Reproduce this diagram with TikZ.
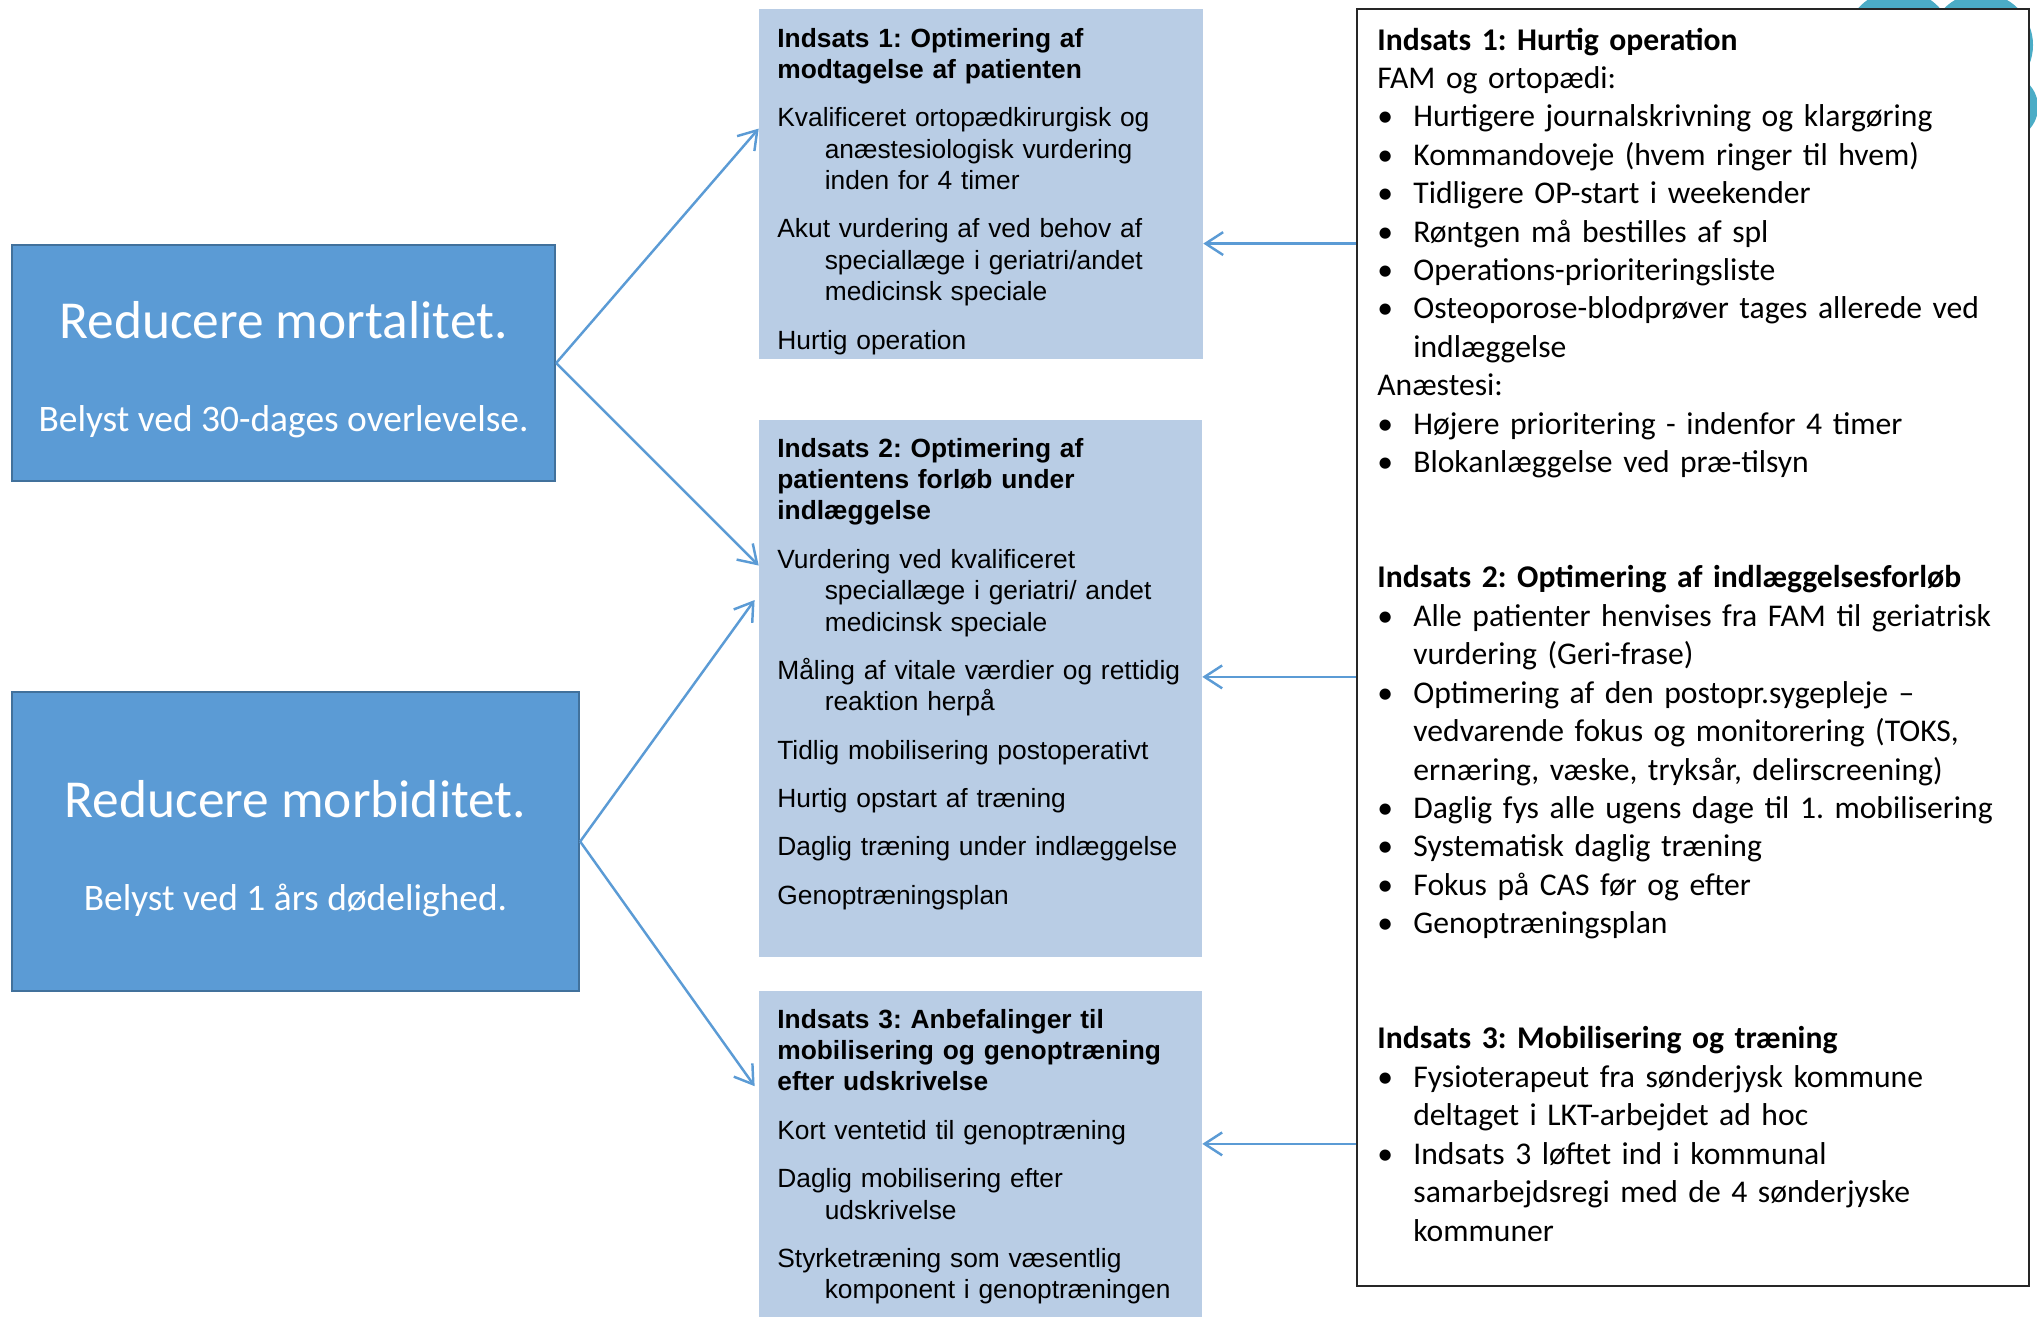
\documentclass[tikz,border=0pt]{standalone}
\usepackage{fontspec}
\setmainfont{Liberation Sans}
\newfontfamily\calibri{Carlito}
\usetikzlibrary{arrows.meta}
\frenchspacing

\definecolor{maalblaa}{HTML}{5B9BD5}
\definecolor{maalkant}{HTML}{41719C}
\definecolor{indsatsblaa}{HTML}{B9CDE5}
\definecolor{cirkel}{HTML}{4BACC6}

% punkt med haengende indrykning
\newcommand{\pkt}[1]{\par\hangindent=27pt\hangafter=1 #1\par}
\newcommand{\blt}[1]{\par\hangindent=20.5pt\hangafter=1\noindent\makebox[20.5pt][l]{\textbullet}#1\par}

\begin{document}
\begin{tikzpicture}[x=0.02cm, y=-0.02cm,
    maal/.style={rectangle, fill=maalblaa, draw=maalkant, line width=1.4pt, text=white, align=center, font=\calibri\fontsize{21.3}{26}\selectfont},
    indsats/.style={rectangle, fill=indsatsblaa, inner sep=0pt},
    indtekst/.style={anchor=base west, inner sep=0pt, text width=8.5cm, align=left,
        font=\fontsize{15}{17.9}\selectfont, execute at begin node={\setlength{\parskip}{9.6pt}}},
    pil/.style={draw=maalblaa, line width=1.4pt, -{Straight Barb[length=10pt, width=13pt]}}]

    \useasboundingbox (0,0) rectangle (2037,1316);

    % cirkler bag boksen
    \fill[cirkel] (1899,45) circle (55);
    \fill[cirkel] (1981,45) circle (52);
    \fill[cirkel] (2005,107) circle (33);

    % maal
    \node[maal, minimum width=10.86cm, minimum height=4.72cm] (mort) at (283.5,363)
        {{\fontsize{30.4}{36}\selectfont\rule{0pt}{28.3pt}Reducere mortalitet.}\\[27pt]Belyst ved 30-dages overlevelse.};
    \node[maal, minimum width=11.34cm, minimum height=5.98cm] (morb) at (295.5,841.5)
        {{\fontsize{30.4}{36}\selectfont\rule{0pt}{28.8pt}Reducere morbiditet.}\\[27pt]Belyst ved 1 års dødelighed.};

    % indsatser
    \node[indsats, minimum width=8.88cm, minimum height=7cm] (ind1) at (981,184) {};
    \node[indsats, minimum width=8.86cm, minimum height=10.74cm] (ind2) at (980.5,688.5) {};
    \node[indsats, minimum width=8.86cm, minimum height=6.58cm] (ind3) at (980.5,1155.5) {};

    \node[indtekst] (ind1txt) at (777,47) {\textbf{Indsats 1: Optimering af\newline modtagelse af patienten}
        \pkt{Kvalificeret ortopædkirurgisk og\newline anæstesiologisk vurdering\newline inden for 4 timer}
        \pkt{Akut vurdering af ved behov af\newline speciallæge i geriatri/andet\newline medicinsk speciale}
        \pkt{Hurtig operation}};
    \node[indtekst] (ind2txt) at (777,457) {\textbf{Indsats 2: Optimering af\newline patientens forløb under\newline indlæggelse}
        \pkt{Vurdering ved kvalificeret\newline speciallæge i geriatri/ andet\newline medicinsk speciale}
        \pkt{Måling af vitale værdier og rettidig\newline reaktion herpå}
        \pkt{Tidlig mobilisering postoperativt}
        \pkt{Hurtig opstart af træning}
        \pkt{Daglig træning under indlæggelse}
        \pkt{Genoptræningsplan}};
    \node[indtekst] (ind3txt) at (777,1028) {\textbf{Indsats 3: Anbefalinger til\newline mobilisering og genoptræning\newline efter udskrivelse}
        \pkt{Kort ventetid til genoptræning}
        \pkt{Daglig mobilisering efter\newline udskrivelse}
        \pkt{Styrketræning som væsentlig\newline komponent i genoptræningen}};

    % lokal kvalitetsteam
    \node[rectangle, fill=white, draw=black!85, line width=1.1pt, minimum width=13.44cm, minimum height=25.54cm] (lkt) at (1693,647.5) {};
    \node[anchor=base west, inner sep=0pt, text width=12.8cm, align=left, font=\calibri\fontsize{18}{21.87}\selectfont] (lkttxt) at (1377,50) {%
        \textbf{Indsats 1: Hurtig operation}\par
        FAM og ortopædi:
        \blt{Hurtigere journalskrivning og klargøring}
        \blt{Kommandoveje (hvem ringer til hvem)}
        \blt{Tidligere OP-start i weekender}
        \blt{Røntgen må bestilles af spl}
        \blt{Operations-prioriteringsliste}
        \blt{Osteoporose-blodprøver tages allerede ved\newline indlæggelse}
        Anæstesi:
        \blt{Højere prioritering - indenfor 4 timer}
        \blt{Blokanlæggelse ved præ-tilsyn}
        \vspace{43.7pt}
        \textbf{Indsats 2: Optimering af indlæggelsesforløb}
        \blt{Alle patienter henvises fra FAM til geriatrisk\newline vurdering (Geri-frase)}
        \blt{Optimering af den postopr.sygepleje –\newline vedvarende fokus og monitorering (TOKS,\newline ernæring, væske, tryksår, delirscreening)}
        \blt{Daglig fys alle ugens dage til 1. mobilisering}
        \blt{Systematisk daglig træning}
        \blt{Fokus på CAS før og efter}
        \blt{Genoptræningsplan}
        \vspace{43.7pt}
        \textbf{Indsats 3: Mobilisering og træning}
        \blt{Fysioterapeut fra sønderjysk kommune\newline deltaget i LKT-arbejdet ad hoc}
        \blt{Indsats 3 løftet ind i kommunal\newline samarbejdsregi med de 4 sønderjyske\newline kommuner}};

    % pile
    \draw[pil] (mort.east) -- (ind1.166);
    \draw[pil] (mort.east) -- (ind2.151);
    \draw[pil, shorten >=4pt] (morb.east) -- (ind2.157);
    \draw[pil, shorten >=4pt] (morb.east) -- (ind3.164);
    \draw[pil] (lkt.west |- ind1.-15) -- (ind1.-15);
    \draw[pil] (lkt.west |- ind2.3.5) -- (ind2.3.5);
    \draw[pil] (lkt.west |- ind3.3.75) -- (ind3.3.75);
\end{tikzpicture}
\end{document}
